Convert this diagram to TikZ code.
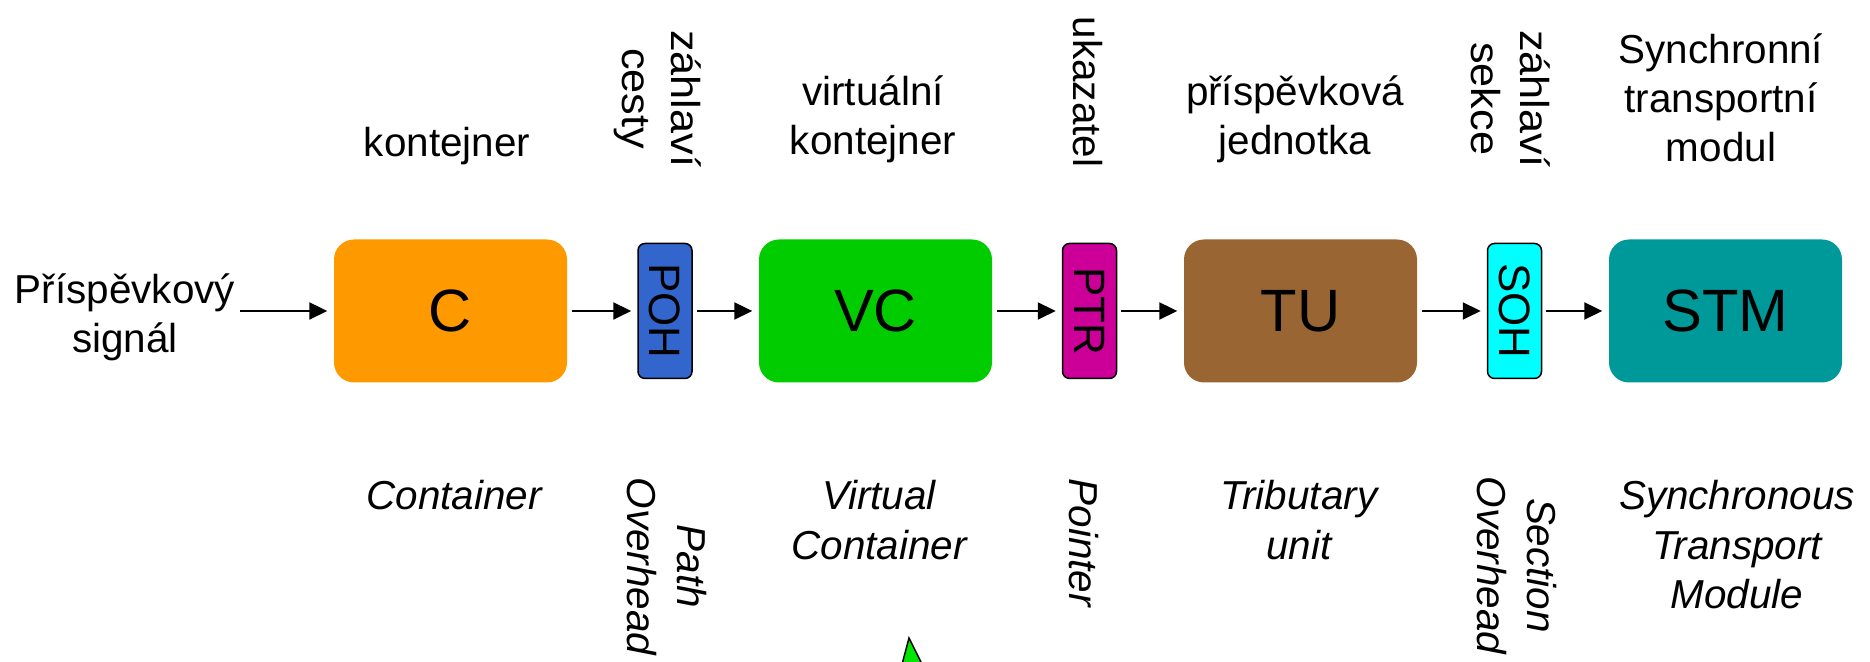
\documentclass[tikz,border=0pt]{standalone}
\usepackage{fontspec}
\setmainfont{Liberation Sans}
\usetikzlibrary{arrows.meta}

\definecolor{corange}{HTML}{FF9900}
\definecolor{cblue}{HTML}{3366CC}
\definecolor{cgreen}{HTML}{00CC00}
\definecolor{cmagenta}{HTML}{CC0099}
\definecolor{cbrown}{HTML}{996633}
\definecolor{ccyan}{HTML}{00FFFF}
\definecolor{cteal}{HTML}{009999}
\definecolor{cpointer}{HTML}{00E600}

\begin{document}
\begin{tikzpicture}[
    big/.style={rounded corners=0.2cm, minimum width=2.33cm, minimum height=1.43cm,
        inner sep=0pt, font=\fontsize{17}{20}\selectfont},
    small/.style={draw, line width=0.015cm, rounded corners=0.07cm, rotate=-90,
        minimum width=1.35cm, minimum height=0.54cm, inner sep=0pt,
        font=\fontsize{12.5}{15}\selectfont},
    lbl/.style={inner sep=0pt, align=center, font=\fontsize{11.5}{14}\selectfont},
    enlbl/.style={lbl, font=\fontsize{11.5}{14}\selectfont\itshape},
    vlbl/.style={rotate=-90, xscale=1.07},
    flow/.style={-{Triangle[length=0.18cm,width=0.17cm]}, line width=0.02cm,
        shorten <=0.04cm, shorten >=0.06cm}
]
    \useasboundingbox (0,0) rectangle (18.70,6.62);
    \clip (0,0) rectangle (18.70,6.62);

    % Chain of blocks
    \node[big, fill=corange] (c) at (4.505,3.51) {C};
    \node[small, fill=cblue] (poh) at (6.65,3.51) {POH};
    \node[big, fill=cgreen] (vc) at (8.755,3.51) {VC};
    \node[small, fill=cmagenta] (ptr) at (10.895,3.51) {PTR};
    \node[big, fill=cbrown] (tu) at (13.005,3.51) {TU};
    \node[small, fill=ccyan] (soh) at (15.145,3.51) {SOH};
    \node[big, fill=cteal] (stm) at (17.255,3.51) {STM};

    % Input signal
    \node[lbl] (signal) at (1.25,3.45) {Příspěvkový\\signál};

    % Czech names above
    \node[lbl, anchor=south] (kont) at (4.47,4.96) {kontejner};
    \node[lbl, anchor=east, vlbl] (zcesty) at (6.58,4.94) {záhlaví\\cesty};
    \node[lbl, anchor=south] (vkont) at (8.73,4.98) {virtuální\\kontejner};
    \node[lbl, anchor=east, rotate=-90] (ukaz) at (10.875,4.94) {ukazatel};
    \node[lbl, anchor=south] (pjedn) at (12.95,4.98) {příspěvková\\jednotka};
    \node[lbl, anchor=east, vlbl] (zsekce) at (15.11,4.94) {záhlaví\\sekce};
    \node[lbl, anchor=south] (stmod) at (17.21,4.99) {Synchronní\\transportní\\modul};

    % English names below
    \node[enlbl, anchor=north] (cont) at (4.54,1.82) {Container};
    \node[enlbl, anchor=west, rotate=-90] (pover) at (6.67,1.85) {Path\\Overhead};
    \node[enlbl, anchor=north] (vcont) at (8.79,1.82) {Virtual\\Container};
    \node[enlbl, anchor=west, rotate=-90] (point) at (10.84,1.84) {Pointer};
    \node[enlbl, anchor=north] (tunit) at (12.99,1.82) {Tributary\\unit};
    \node[enlbl, anchor=west, rotate=-90] (sover) at (15.17,1.86) {Section\\Overhead};
    \node[enlbl, anchor=north] (stmeng) at (17.37,1.82) {Synchronous\\Transport\\Module};

    % Arrows
    \draw[flow] (signal.east |- c.west) -- (c.west);
    \foreach \a/\b in {c/poh, poh/vc, vc/ptr, ptr/tu, tu/soh, soh/stm}
        \draw[flow] (\a) -- (\b);

    % Green pointer at the bottom edge
    \draw[fill=cpointer, line width=0.015cm] (9.09,0.24) -- (9.26,-0.10) -- (9.00,-0.10) -- cycle;
\end{tikzpicture}
\end{document}
